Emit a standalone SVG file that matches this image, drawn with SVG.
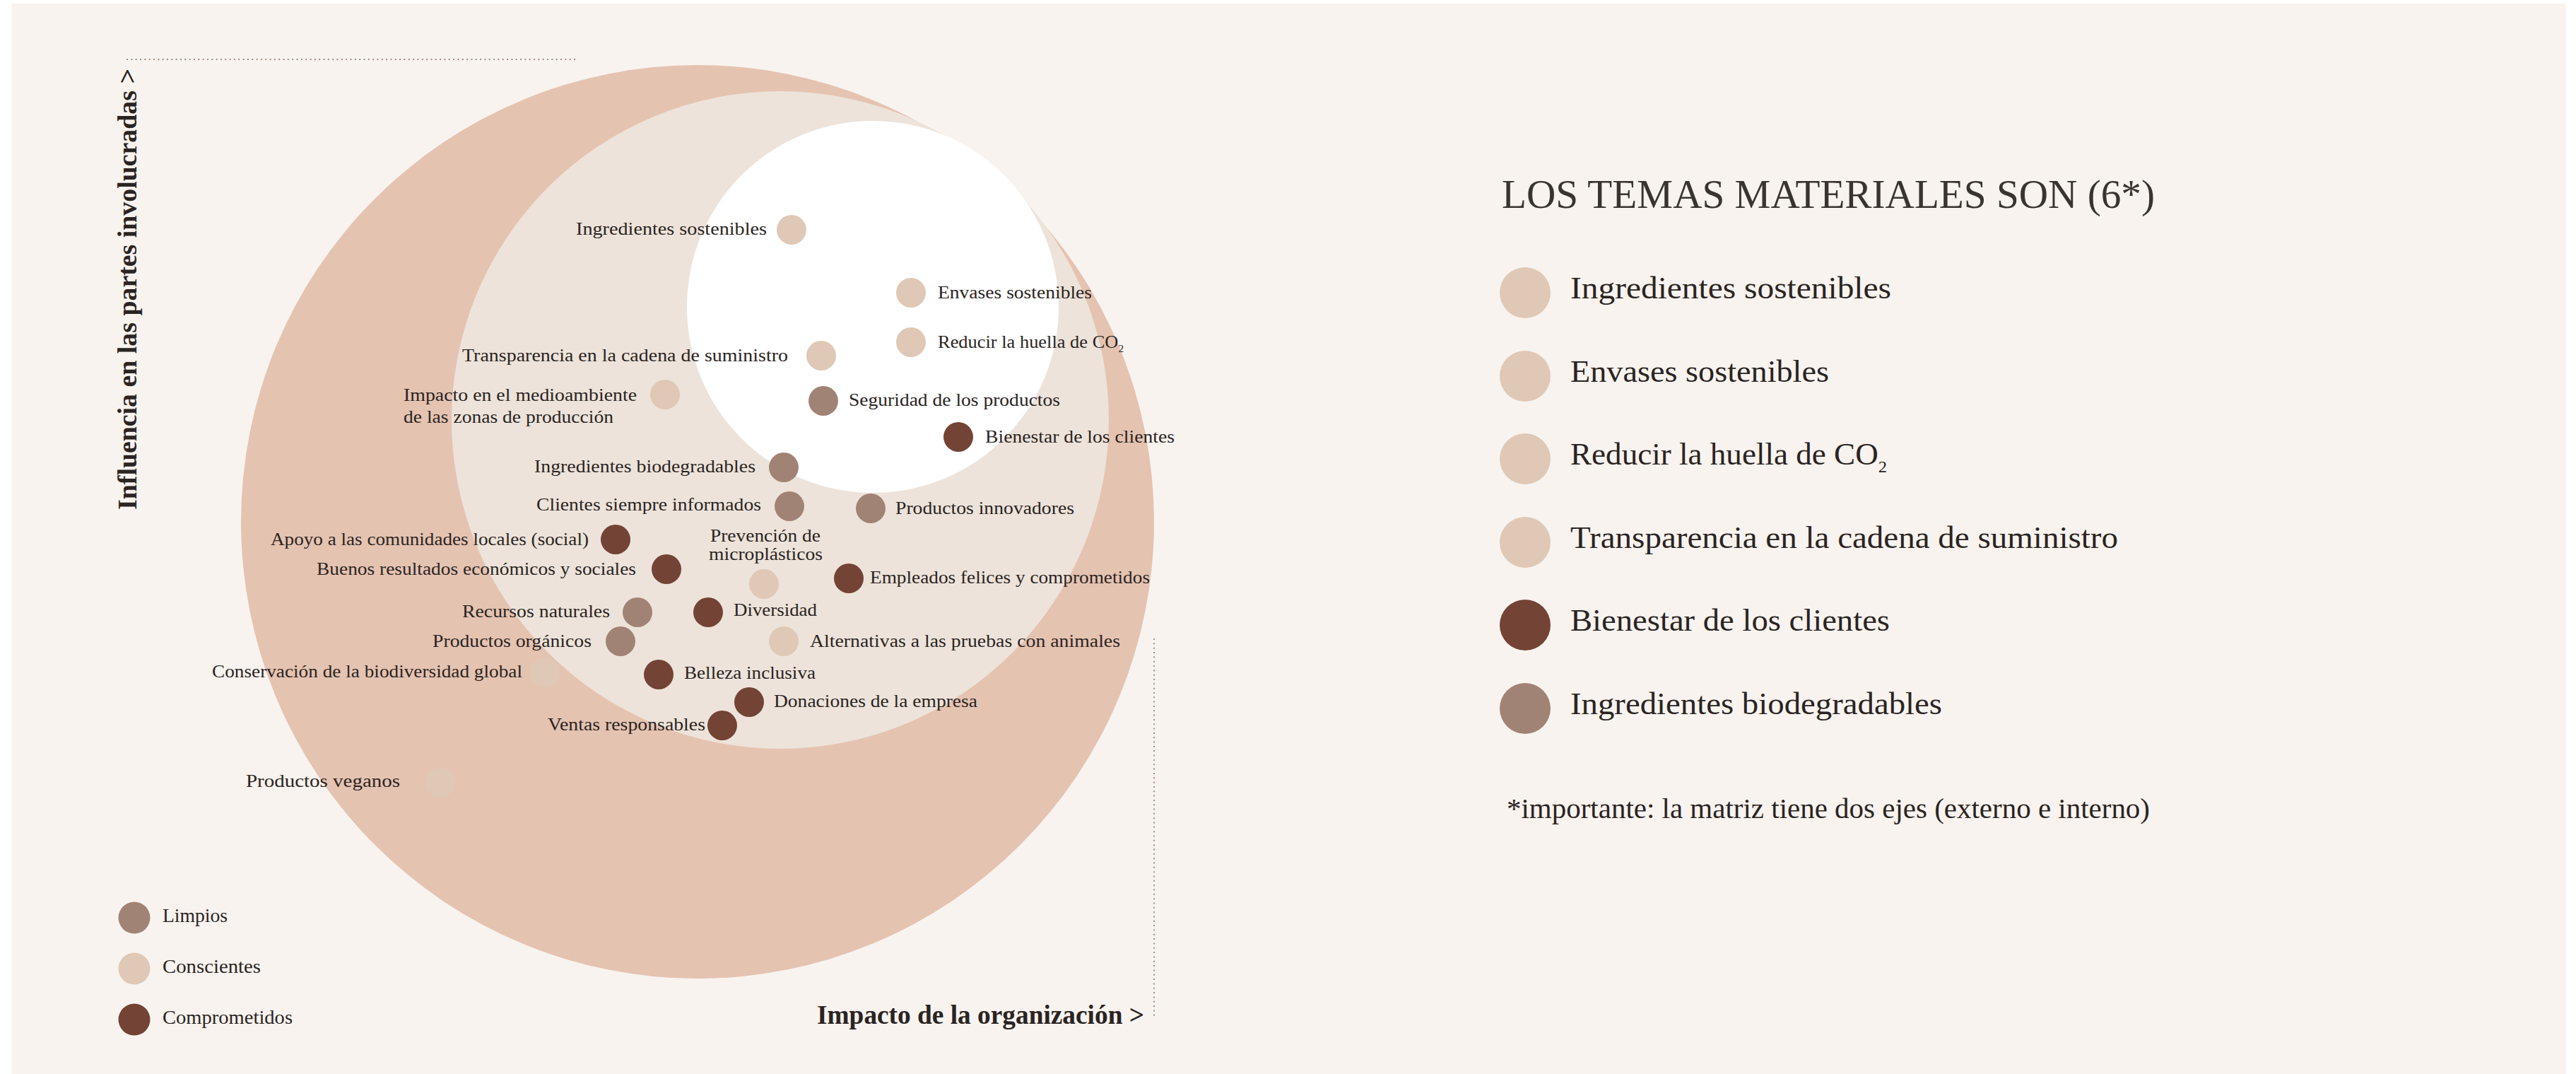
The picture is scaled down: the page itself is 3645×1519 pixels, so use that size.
<svg xmlns="http://www.w3.org/2000/svg" width="3645" height="1519" viewBox="0 0 3645 1519">
<style>
.lbl{font-family:"Liberation Serif","Times New Roman",serif;font-size:26px;fill:#2a2422}
.leg{font-family:"Liberation Serif","Times New Roman",serif;font-size:44px;fill:#2a2422}
.sleg{font-family:"Liberation Serif","Times New Roman",serif;font-size:28px;fill:#2a2422}
.axis{font-family:"Liberation Serif","Times New Roman",serif;font-size:38px;font-weight:bold;fill:#2a2422}
.title{font-family:"Liberation Serif","Times New Roman",serif;font-size:56px;fill:#3a3431}
.note{font-family:"Liberation Serif","Times New Roman",serif;font-size:40px;fill:#2a2422}
.c{fill:#dfc8b5}
.l{fill:#a18375}
.d{fill:#734335}
.guide{stroke:#a58d83;stroke-width:2;stroke-dasharray:2 4.33;fill:none}
</style>
<rect x="0" y="0" width="3645" height="1519" fill="#ffffff"/>
<rect x="16" y="5" width="3615" height="1514" fill="#f8f3ef"/>
<g id="rings">
<circle cx="987" cy="738" r="646" fill="#e5c3b1"/>
<circle cx="1104" cy="594" r="465" fill="#ede3da"/>
<circle cx="1235" cy="434" r="263" fill="#ffffff"/>
</g>
<g id="connectors">
<line class="guide" x1="179" y1="84" x2="815" y2="84"/>
<line class="guide" x1="1633" y1="903" x2="1633" y2="1441"/>
</g>
<g id="axis-labels">
<text class="axis" transform="translate(193,721) rotate(-90)" textLength="624" lengthAdjust="spacingAndGlyphs">Influencia en las partes involucradas &gt;</text>
<text class="axis" x="1156" y="1448" textLength="463" lengthAdjust="spacingAndGlyphs">Impacto de la organización &gt;</text>
</g>
<g id="n-ingredientes-sostenibles"><circle class="c" cx="1120" cy="325" r="21"/><text class="lbl" x="815" y="332" textLength="270" lengthAdjust="spacingAndGlyphs">Ingredientes sostenibles</text></g>
<g id="n-envases"><circle class="c" cx="1289" cy="414" r="21"/><text class="lbl" x="1327" y="422" textLength="218" lengthAdjust="spacingAndGlyphs">Envases sostenibles</text></g>
<g id="n-co2"><circle class="c" cx="1289" cy="484" r="21"/><text class="lbl" x="1327" y="492" textLength="263" lengthAdjust="spacingAndGlyphs">Reducir la huella de CO<tspan dy="6" font-size="15">2</tspan></text></g>
<g id="n-transparencia"><circle class="c" cx="1162" cy="503" r="21"/><text class="lbl" x="654" y="511" textLength="461" lengthAdjust="spacingAndGlyphs">Transparencia en la cadena de suministro</text></g>
<g id="n-impacto"><circle class="c" cx="941" cy="558" r="21"/><text class="lbl" x="571" y="567" textLength="330" lengthAdjust="spacingAndGlyphs">Impacto en el medioambiente</text><text class="lbl" x="571" y="598" textLength="297" lengthAdjust="spacingAndGlyphs">de las zonas de producción</text></g>
<g id="n-seguridad"><circle class="l" cx="1165" cy="567" r="21"/><text class="lbl" x="1201" y="574" textLength="299" lengthAdjust="spacingAndGlyphs">Seguridad de los productos</text></g>
<g id="n-bienestar"><circle class="d" cx="1356" cy="618" r="21"/><text class="lbl" x="1394" y="626" textLength="268" lengthAdjust="spacingAndGlyphs">Bienestar de los clientes</text></g>
<g id="n-biodegradables"><circle class="l" cx="1109" cy="661" r="21"/><text class="lbl" x="756" y="668" textLength="313" lengthAdjust="spacingAndGlyphs">Ingredientes biodegradables</text></g>
<g id="n-clientes"><circle class="l" cx="1117" cy="716" r="21"/><text class="lbl" x="759" y="722" textLength="318" lengthAdjust="spacingAndGlyphs">Clientes siempre informados</text></g>
<g id="n-innovadores"><circle class="l" cx="1232" cy="719" r="21"/><text class="lbl" x="1267" y="727" textLength="253" lengthAdjust="spacingAndGlyphs">Productos innovadores</text></g>
<g id="n-apoyo"><circle class="d" cx="871" cy="763" r="21"/><text class="lbl" x="383" y="771" textLength="450" lengthAdjust="spacingAndGlyphs">Apoyo a las comunidades locales (social)</text></g>
<g id="n-microplasticos"><circle class="c" cx="1081" cy="826" r="21"/><text class="lbl" x="1005" y="766" textLength="156" lengthAdjust="spacingAndGlyphs">Prevención de</text><text class="lbl" x="1003" y="792" textLength="161" lengthAdjust="spacingAndGlyphs">microplásticos</text></g>
<g id="n-buenos"><circle class="d" cx="943" cy="805" r="21"/><text class="lbl" x="448" y="813" textLength="452" lengthAdjust="spacingAndGlyphs">Buenos resultados económicos y sociales</text></g>
<g id="n-empleados"><circle class="d" cx="1201" cy="818" r="21"/><text class="lbl" x="1231" y="825" textLength="396" lengthAdjust="spacingAndGlyphs">Empleados felices y comprometidos</text></g>
<g id="n-recursos"><circle class="l" cx="902" cy="866" r="21"/><text class="lbl" x="654" y="873" textLength="209" lengthAdjust="spacingAndGlyphs">Recursos naturales</text></g>
<g id="n-diversidad"><circle class="d" cx="1002" cy="866" r="21"/><text class="lbl" x="1038" y="871" textLength="118" lengthAdjust="spacingAndGlyphs">Diversidad</text></g>
<g id="n-organicos"><circle class="l" cx="878" cy="907" r="21"/><text class="lbl" x="612" y="915" textLength="225" lengthAdjust="spacingAndGlyphs">Productos orgánicos</text></g>
<g id="n-alternativas"><circle class="c" cx="1109" cy="907" r="21"/><text class="lbl" x="1146" y="915" textLength="439" lengthAdjust="spacingAndGlyphs">Alternativas a las pruebas con animales</text></g>
<g id="n-conservacion"><circle class="c" cx="771" cy="951" r="21"/><text class="lbl" x="300" y="958" textLength="439" lengthAdjust="spacingAndGlyphs">Conservación de la biodiversidad global</text></g>
<g id="n-belleza"><circle class="d" cx="932" cy="954" r="21"/><text class="lbl" x="968" y="960" textLength="186" lengthAdjust="spacingAndGlyphs">Belleza inclusiva</text></g>
<g id="n-donaciones"><circle class="d" cx="1060" cy="993" r="21"/><text class="lbl" x="1095" y="1000" textLength="288" lengthAdjust="spacingAndGlyphs">Donaciones de la empresa</text></g>
<g id="n-ventas"><circle class="d" cx="1022" cy="1026" r="21"/><text class="lbl" x="775" y="1033" textLength="223" lengthAdjust="spacingAndGlyphs">Ventas responsables</text></g>
<g id="n-veganos"><circle class="c" cx="623" cy="1107" r="21"/><text class="lbl" x="348" y="1113" textLength="218" lengthAdjust="spacingAndGlyphs">Productos veganos</text></g>
<g id="legend-types">
<circle class="l" cx="190" cy="1298" r="22.5"/><text class="sleg" x="230" y="1304" textLength="92" lengthAdjust="spacingAndGlyphs">Limpios</text>
<circle class="c" cx="190" cy="1370" r="22.5"/><text class="sleg" x="230" y="1376" textLength="139" lengthAdjust="spacingAndGlyphs">Conscientes</text>
<circle class="d" cx="190" cy="1442" r="22.5"/><text class="sleg" x="230" y="1448" textLength="184" lengthAdjust="spacingAndGlyphs">Comprometidos</text>
</g>
<g id="material-topics">
<text class="title" x="2125" y="294" textLength="924" lengthAdjust="spacingAndGlyphs">LOS TEMAS MATERIALES SON (6*)</text>
<circle class="c" cx="2158" cy="414" r="36"/><text class="leg" x="2222" y="422" textLength="454" lengthAdjust="spacingAndGlyphs">Ingredientes sostenibles</text>
<circle class="c" cx="2158" cy="532" r="36"/><text class="leg" x="2222" y="540" textLength="366" lengthAdjust="spacingAndGlyphs">Envases sostenibles</text>
<circle class="c" cx="2158" cy="649" r="36"/><text class="leg" x="2222" y="657" textLength="448" lengthAdjust="spacingAndGlyphs">Reducir la huella de CO<tspan dy="11" font-size="24">2</tspan></text>
<circle class="c" cx="2158" cy="767" r="36"/><text class="leg" x="2222" y="775" textLength="775" lengthAdjust="spacingAndGlyphs">Transparencia en la cadena de suministro</text>
<circle class="d" cx="2158" cy="884" r="36"/><text class="leg" x="2222" y="892" textLength="452" lengthAdjust="spacingAndGlyphs">Bienestar de los clientes</text>
<circle class="l" cx="2158" cy="1002" r="36"/><text class="leg" x="2222" y="1010" textLength="526" lengthAdjust="spacingAndGlyphs">Ingredientes biodegradables</text>
<text class="note" x="2132" y="1157" textLength="910" lengthAdjust="spacingAndGlyphs">*importante: la matriz tiene dos ejes (externo e interno)</text>
</g>
</svg>
